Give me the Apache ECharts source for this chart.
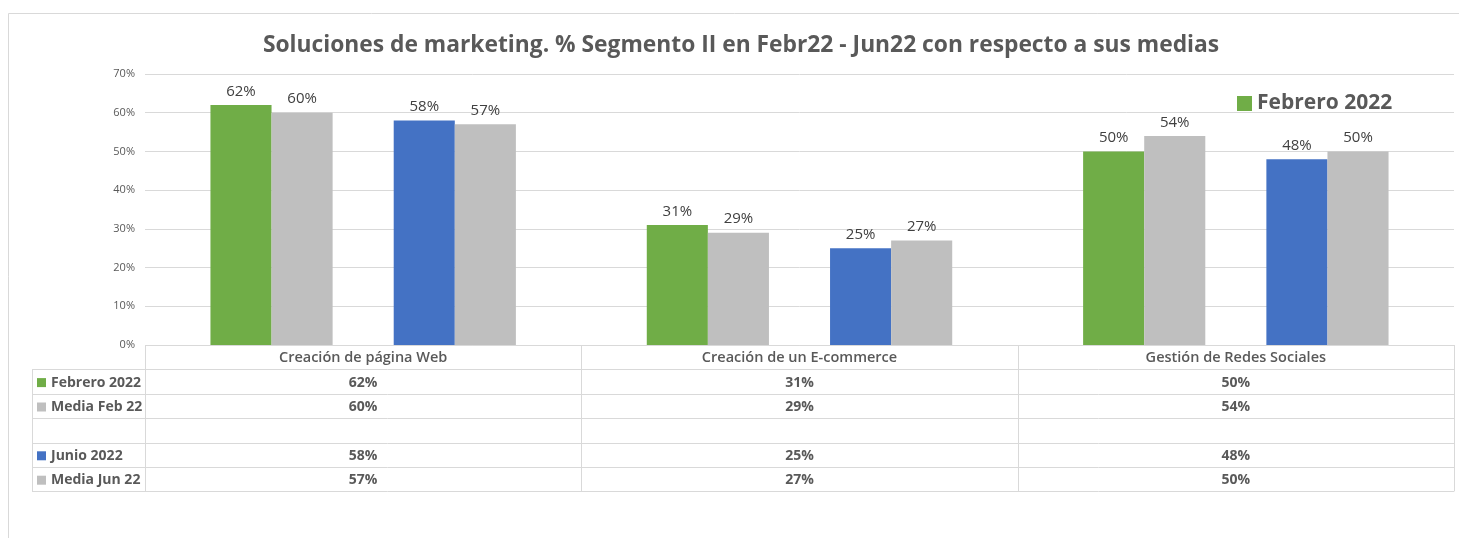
<!DOCTYPE html>
<html>
<head>
<meta charset="utf-8">
<script src="https://cdn.jsdelivr.net/npm/echarts@6/dist/echarts.min.js"></script>
<style>
  html, body { margin: 0; padding: 0; background: #fff; }
  #chart { width: 1459px; height: 538px; }
</style>
</head>
<body>
<div id="chart"></div>
<script>
// data
var categories = ['Creación de página Web', 'Creación de un E-commerce', 'Gestión de Redes Sociales'];
var seriesNames = ['Febrero 2022', 'Media Feb 22', '', 'Junio 2022', 'Media Jun 22'];
var febrero2022 = [62, 31, 50];
var mediaFeb22 = [60, 29, 54];
var blankRow = [null, null, null];
var junio2022 = [58, 25, 48];
var mediaJun22 = [57, 27, 50];
var yTicks = [0, 10, 20, 30, 40, 50, 60, 70];

var seriesData = [febrero2022, mediaFeb22, blankRow, junio2022, mediaJun22];
var colors = ['#70ad47', '#bfbfbf', '#ffffff', '#4472c4', '#bfbfbf'];

// layout
var gridLeft = 145, gridRight = 1454, gridTop = 74, gridBottom = 345;
var tableLeft = 32, rowH = 24.4;
var fontFam = '"Open Sans", "Noto Sans", sans-serif';

var chart = echarts.init(document.getElementById('chart'));

// ============================================================== 
// data table under the plot
// ============================================================== 
function tableGraphic() {
    var els = [];
    var colW = (gridRight - gridLeft) / categories.length;
    var nRows = seriesNames.length;
    var tableBottom = gridBottom + rowH * (nRows + 1);
    var line = { stroke: '#d9d9d9', lineWidth: 1 };

    // outer frame of the chart
    els.push({ type: 'rect', shape: { x: 8.5, y: 13.5, width: 1470, height: 600 },
        style: { fill: null, stroke: '#d9d9d9', lineWidth: 1 }, silent: true });

    // horizontal lines
    els.push({ type: 'line', shape: { x1: gridLeft, y1: gridBottom + 0.5, x2: gridRight, y2: gridBottom + 0.5 }, style: line });
    for (var r = 1; r <= nRows + 1; r++) {
        var y = Math.round(gridBottom + rowH * r) + 0.5;
        els.push({ type: 'line', shape: { x1: tableLeft, y1: y, x2: gridRight, y2: y }, style: line });
    }
    // vertical lines
    els.push({ type: 'line', shape: { x1: tableLeft + 0.5, y1: gridBottom + rowH, x2: tableLeft + 0.5, y2: tableBottom }, style: line });
    for (var c = 0; c <= categories.length; c++) {
        var x = Math.round(gridLeft + colW * c) + 0.5;
        els.push({ type: 'line', shape: { x1: x, y1: gridBottom, x2: x, y2: tableBottom }, style: line });
    }
    // header
    categories.forEach(function (cat, i) {
        els.push({ type: 'text', x: gridLeft + colW * (i + 0.5), y: gridBottom + rowH / 2 + 1,
            style: { text: cat, fill: '#595959', font: '600 14.5px ' + fontFam, align: 'center', verticalAlign: 'middle' } });
    });
    // rows
    seriesNames.forEach(function (name, r) {
        var cy = gridBottom + rowH * (r + 1.5) + 1;
        if (name) {
            els.push({ type: 'rect', shape: { x: 37, y: cy - 4.5, width: 9, height: 9 }, style: { fill: colors[r] } });
            els.push({ type: 'text', x: 51, y: cy,
                style: { text: name, fill: '#595959', font: 'bold 14px ' + fontFam, verticalAlign: 'middle' } });
        }
        seriesData[r].forEach(function (v, i) {
            if (v == null) return;
            els.push({ type: 'text', x: gridLeft + colW * (i + 0.5), y: cy,
                style: { text: v + '%', fill: '#595959', font: 'bold 14px ' + fontFam, align: 'center', verticalAlign: 'middle' } });
        });
    });
    return els;
}

var option = {
    backgroundColor: '#fff',
    animation: false,
    title: {
        text: 'Soluciones de marketing. % Segmento II en Febr22 - Jun22 con respecto a sus medias',
        left: 736,
        top: 29,
        textAlign: 'center',
        textStyle: { fontFamily: fontFam, fontSize: 22.8, fontWeight: 'bold', color: '#595959' }
    },
    legend: {
        data: ['Febrero 2022'],
        left: 1232,
        top: 88,
        itemWidth: 15,
        itemHeight: 15,
        itemGap: 6,
        icon: 'rect',
        textStyle: { fontFamily: fontFam, fontSize: 21, fontWeight: 'bold', color: '#595959' }
    },
    grid: {
        left: gridLeft,
        right: 1459 - gridRight,
        top: gridTop,
        bottom: 538 - gridBottom
    },
    xAxis: {
        type: 'category',
        data: categories,
        axisLine: { show: false },
        axisTick: { show: false },
        axisLabel: { show: false }
    },
    yAxis: {
        type: 'value',
        min: yTicks[0],
        max: yTicks[yTicks.length - 1],
        interval: 10,
        axisLine: { show: false },
        axisTick: { show: false },
        axisLabel: { formatter: '{value}%', color: '#595959', fontSize: 11, fontFamily: fontFam, margin: 10 },
        splitLine: { lineStyle: { color: '#d9d9d9' } }
    },
    series: seriesNames.map(function (name, i) {
        return {
            name: name,
            type: 'bar',
            data: seriesData[i],
            barGap: '0%',
            barCategoryGap: '30%',
            itemStyle: { color: colors[i] },
            label: {
                show: true,
                position: 'top',
                distance: 6,
                formatter: '{c}%',
                color: '#404040',
                fontSize: 15,
                fontFamily: fontFam
            }
        };
    }),
    graphic: tableGraphic()
};

chart.setOption(option, true);
</script>
</body>
</html>
